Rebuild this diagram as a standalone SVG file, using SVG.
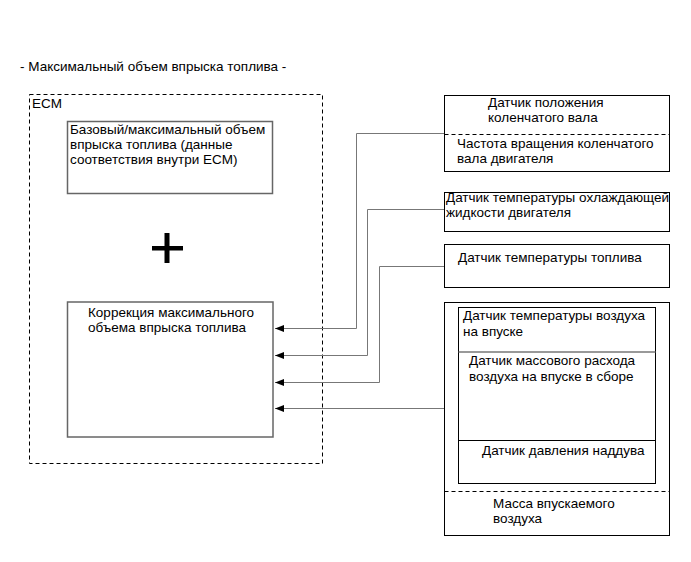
<svg xmlns="http://www.w3.org/2000/svg" width="691" height="562" viewBox="0 0 691 562">
<style>
text{font-family:"Liberation Sans",Arial,sans-serif;font-size:13.5px;fill:#000}
.box{fill:#fff;stroke:#000;stroke-width:1}
.gbox{fill:#fff;stroke:#666;stroke-width:1.5}
.dash{fill:none;stroke:#000;stroke-width:1;stroke-dasharray:4,3}
.conn{fill:none;stroke:#777;stroke-width:1}
</style>
<defs>
<marker id="arr" markerWidth="9" markerHeight="7" refX="9" refY="3.5" orient="auto" markerUnits="userSpaceOnUse">
<path d="M0,0 L9,3.5 L0,7 z" fill="#000"/>
</marker>
</defs>
<rect width="691" height="562" fill="#fff"/>
<text x="20" y="71">- Максимальный объем впрыска топлива -</text>

<g id="ecm">
<rect class="dash" x="29.5" y="94.5" width="293" height="369"/>
<text x="32" y="108">ECM</text>
</g>
<g id="base">
<rect class="gbox" x="67.5" y="121.5" width="205" height="72"/>
<text x="70" y="134">Базовый/максимальный объем</text>
<text x="70" y="149">впрыска топлива (данные</text>
<text x="70" y="164">соответствия внутри ECM)</text>
</g>
<g id="plus">
<rect x="152" y="246" width="31" height="4.5" fill="#000"/>
<rect x="164.5" y="233" width="5" height="30" fill="#000"/>
</g>
<g id="correction">
<rect class="gbox" x="67.5" y="302" width="205.5" height="135"/>
<text x="88" y="317">Коррекция максимального</text>
<text x="88" y="332">объема впрыска топлива</text>
</g>
<g id="crank">
<rect class="box" x="444.5" y="95.5" width="225" height="76"/>
<line class="dash" x1="444.5" y1="134.5" x2="669.5" y2="134.5"/>
<text x="488" y="107">Датчик положения</text>
<text x="488" y="122">коленчатого вала</text>
<text x="457" y="148">Частота вращения коленчатого</text>
<text x="457" y="163">вала двигателя</text>
</g>
<g id="coolant">
<rect class="box" x="444.5" y="192.5" width="225" height="39"/>
<text x="446" y="202">Датчик температуры охлаждающей</text>
<text x="446" y="217">жидкости двигателя</text>
</g>
<g id="fueltemp">
<rect class="box" x="444.5" y="244.5" width="225" height="43"/>
<text x="458" y="262">Датчик температуры топлива</text>
</g>
<g id="air">
<rect class="box" x="444.5" y="302.5" width="225" height="233"/>
<rect class="box" x="458.5" y="307.5" width="197" height="176"/>
<line x1="458.5" y1="352" x2="655.5" y2="352" stroke="#777" stroke-width="1.5"/>
<line x1="458.5" y1="440.5" x2="655.5" y2="440.5" stroke="#000" stroke-width="1"/>
<line class="dash" x1="444.5" y1="491.5" x2="669.5" y2="491.5"/>
<text x="463" y="320">Датчик температуры воздуха</text>
<text x="463" y="336">на впуске</text>
<text x="469" y="365">Датчик массового расхода</text>
<text x="469" y="381">воздуха на впуске в сборе</text>
<text x="482" y="455">Датчик давления наддува</text>
<text x="493" y="508">Масса впускаемого</text>
<text x="493" y="523">воздуха</text>
</g>
<g id="connectors">
<polyline class="conn" points="444,133.5 356.5,133.5 356.5,328.5 275,328.5" marker-end="url(#arr)"/>
<polyline class="conn" points="444,209.5 367.5,209.5 367.5,355.5 275,355.5" marker-end="url(#arr)"/>
<polyline class="conn" points="444,266.5 379.5,266.5 379.5,382.5 275,382.5" marker-end="url(#arr)"/>
<polyline class="conn" points="444,408.5 275,408.5" marker-end="url(#arr)"/>
</g>
</svg>
